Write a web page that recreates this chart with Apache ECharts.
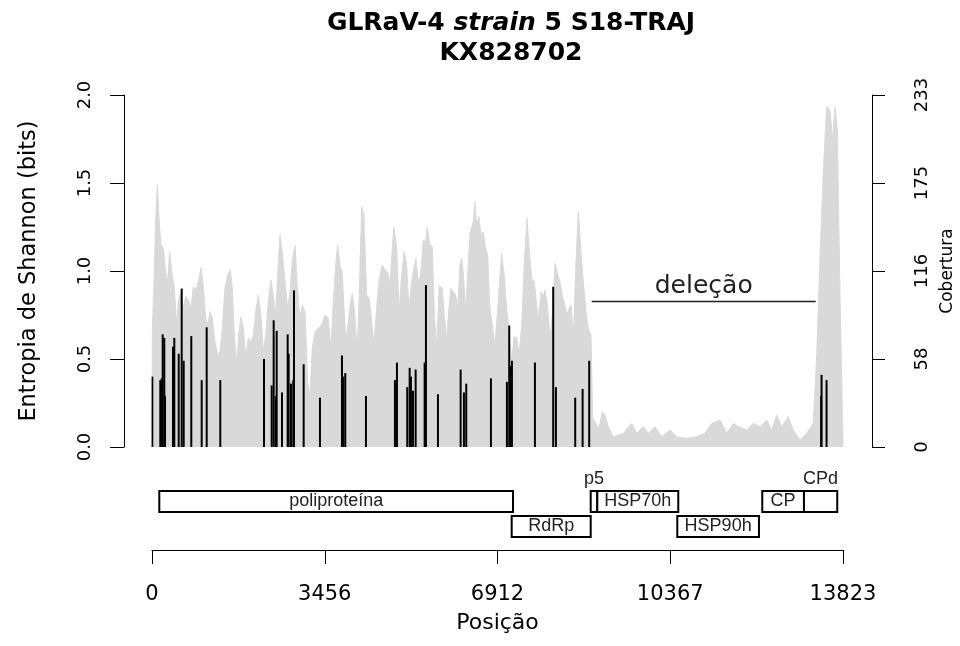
<!DOCTYPE html>
<html>
<head>
<meta charset="utf-8">
<title>GLRaV-4 strain 5 S18-TRAJ</title>
<script src="https://cdn.jsdelivr.net/npm/echarts@6.0.0/dist/echarts.min.js"></script>
<style>
  html, body { margin: 0; padding: 0; background: #fff; }
  #main { width: 960px; height: 646px; }
</style>
</head>
<body>
<div id="main"></div>
<script>
// genome and axis labels
var genomeLength = 13823;
var xTickLabels = ['0', '3456', '6912', '10367', '13823'];
var coverageMax = 233;
var coverageTickLabels = ['0', '58', '116', '175', '233'];

// coverage profile (grey area, right axis)
var coveragePos = [
  0, 6, 46, 76, 106, 140, 180, 226, 274, 314,
  354, 394, 446, 494, 526, 580, 626, 674, 726, 780,
  826, 874, 926, 980, 1026, 1074, 1114, 1160, 1206, 1260,
  1314, 1360, 1406, 1460, 1514, 1566, 1606, 1646, 1694, 1740,
  1780, 1826, 1874, 1926, 1980, 2026, 2074, 2126, 2180, 2226,
  2274, 2326, 2380, 2426, 2474, 2514, 2560, 2606, 2660, 2714,
  2760, 2806, 2860, 2914, 2960, 3006, 3060, 3114, 3160, 3206,
  3260, 3326, 3394, 3460, 3526, 3580, 3626, 3674, 3714, 3760,
  3806, 3840, 3880, 3926, 3974, 4006, 4046, 4106, 4146, 4194,
  4240, 4294, 4346, 4394, 4440, 4494, 4546, 4606, 4660, 4714,
  4760, 4806, 4840, 4894, 4946, 4994, 5046, 5094, 5140, 5194,
  5240, 5280, 5326, 5374, 5426, 5474, 5506, 5560, 5606, 5646,
  5694, 5746, 5806, 5846, 5894, 5940, 5980, 6026, 6074, 6114,
  6160, 6194, 6226, 6274, 6314, 6360, 6400, 6426, 6460, 6494,
  6540, 6580, 6626, 6674, 6714, 6760, 6814, 6860, 6906, 6926,
  6994, 7046, 7094, 7140, 7196, 7242, 7296, 7342, 7396, 7448,
  7502, 7548, 7596, 7648, 7696, 7728, 7782, 7828, 7862, 7908,
  7962, 8008, 8062, 8116, 8162, 8216, 8262, 8296, 8342, 8382,
  8428, 8476, 8528, 8582, 8628, 8676, 8728, 8782, 8816, 8862,
  8916, 8962, 9008, 9062, 9128, 9228, 9428, 9596, 9696, 9828,
  9928, 10062, 10196, 10362, 10496, 10696, 10896, 11062, 11196, 11362,
  11496, 11630, 11730, 11896, 12030, 12164, 12296, 12396, 12496, 12596,
  12728, 12828, 12962, 13096, 13228, 13296, 13362, 13428, 13496, 13562,
  13616, 13662, 13708, 13762, 13823
];
var coverageVal = [
  0, 76.3, 116.0, 153.6, 173.4, 151.6, 133.7, 131.7, 116.0, 109.4,
  129.3, 116.0, 105.3, 80.8, 96.2, 102.8, 92.0, 99.5, 97.3, 92.0,
  106.1, 103.9, 109.4, 118.7, 107.2, 85.4, 80.8, 89.6, 85.4, 69.7,
  60.9, 63.1, 78.8, 105.3, 113.9, 117.2, 105.3, 74.1, 55.6, 76.3,
  86.3, 78.8, 59.8, 72.0, 69.7, 74.1, 89.6, 100.6, 87.4, 63.1,
  74.1, 96.2, 110.6, 100.6, 87.4, 113.9, 140.3, 129.3, 109.4, 92.0,
  102.8, 122.7, 133.7, 102.8, 85.4, 94.0, 89.6, 43.2, 34.4, 65.3,
  76.3, 78.6, 80.8, 87.4, 85.2, 65.3, 96.2, 120.5, 133.7, 120.5,
  116.0, 91.8, 69.7, 82.9, 96.2, 101.7, 91.8, 64.2, 100.6, 159.1,
  153.6, 100.6, 98.4, 82.9, 67.5, 91.8, 111.7, 120.5, 117.2, 116.0,
  107.2, 131.5, 145.8, 131.5, 89.6, 113.9, 129.3, 120.5, 91.8, 109.4,
  118.3, 124.9, 109.4, 113.9, 137.0, 135.9, 145.8, 133.7, 132.6, 89.6,
  65.3, 107.2, 105.1, 87.4, 72.0, 91.8, 105.1, 102.8, 100.6, 91.8,
  120.5, 124.9, 116.0, 89.6, 113.9, 141.5, 140.3, 149.1, 162.4, 147.0,
  152.5, 140.3, 142.5, 131.5, 127.1, 91.8, 78.6, 67.5, 87.4, 96.2,
  128.2, 113.9, 91.8, 78.6, 56.5, 73.0, 72.0, 60.9, 80.8, 122.7,
  151.4, 129.3, 111.7, 109.4, 94.0, 84.1, 102.8, 99.5, 103.9, 95.1,
  72.0, 87.4, 121.6, 113.9, 109.4, 98.4, 94.0, 87.4, 91.8, 94.0,
  72.0, 118.3, 155.8, 129.3, 109.4, 91.8, 78.6, 74.1, 19.0, 16.7,
  12.4, 15.7, 23.4, 21.2, 13.4, 6.8, 9.1, 15.7, 9.1, 13.4,
  9.1, 13.4, 6.8, 11.3, 6.8, 5.8, 6.8, 9.1, 15.7, 17.9,
  9.1, 15.7, 13.4, 11.3, 15.7, 13.4, 17.9, 11.3, 21.2, 13.4,
  20.1, 11.3, 4.6, 9.1, 15.7, 59.8, 126.0, 181.2, 225.3, 223.1,
  203.2, 225.3, 209.9, 103.9, 2.6
];

// Shannon entropy per position (black spikes, left axis)
var entropyPos = [
  6, 166, 194, 214, 246, 260, 420, 446, 534, 594,
  634, 786, 994, 1094, 1366, 2240, 2394, 2434, 2474, 2494,
  2600, 2714, 2734, 2780, 2826, 2840, 3034, 3360, 3800, 3826,
  3866, 4280, 4860, 4900, 5106, 5154, 5180, 5220, 5274, 5454,
  5480, 5720, 6174, 6240, 6286, 6780, 7100, 7146, 7174, 7200,
  7660, 8026, 8080, 8466, 8614, 8746, 13386, 13394, 13494
];
var entropyVal = [
  0.40, 0.38, 0.39, 0.64, 0.62, 0.29, 0.57, 0.62, 0.53, 0.90,
  0.49, 0.63, 0.38, 0.68, 0.38, 0.50, 0.35, 0.72, 0.29, 0.66,
  0.31, 0.64, 0.53, 0.36, 0.38, 0.89, 0.47, 0.28, 0.52, 0.40,
  0.42, 0.29, 0.38, 0.48, 0.34, 0.45, 0.40, 0.32, 0.44, 0.48,
  0.92, 0.30, 0.44, 0.31, 0.36, 0.39, 0.37, 0.69, 0.46, 0.49,
  0.48, 0.91, 0.34, 0.28, 0.33, 0.49, 0.29, 0.41, 0.38
];

// genome map
var geneNames = ['poliproteína', 'RdRp', 'p5', 'HSP70h', 'HSP90h', 'CP', 'CPd'];
var geneStart = [146, 7195, 8776, 8908, 10508, 12208, 13042];
var geneEnd = [7222, 8776, 8908, 10528, 12142, 13042, 13708];
var geneLane = [1, 0, 1, 1, 0, 1, 1];
var laneNames = ['inferior', 'superior'];

// deleted region
var delStart = 8796;
var delEnd = 13277;
var delLevel = 0.83;
var delLabel = 'deleção';

var chartDom = document.getElementById('main');
var myChart = echarts.init(chartDom, null, { renderer: 'canvas' });

var measureCtx = document.createElement('canvas').getContext('2d');
measureCtx.font = '18px "Liberation Sans"';

function renderGene(params, api) {
  var lane = api.value(2);
  var p0 = api.coord([api.value(0), lane]);
  var p1 = api.coord([api.value(1), lane]);
  var h = api.size([0, 1])[1] * 0.84;
  var w = p1[0] - p0[0];
  var name = geneNames[params.dataIndex];
  // narrow boxes get their name written above them
  var above = measureCtx.measureText(name).width + 6 > w;
  return {
    type: 'group',
    children: [
      {
        type: 'rect',
        shape: { x: p0[0], y: p0[1] - h / 2, width: w, height: h },
        style: { fill: '#fff', stroke: '#000', lineWidth: 2 }
      },
      {
        type: 'text',
        style: {
          text: name,
          x: (p0[0] + p1[0]) / 2,
          y: above ? p0[1] - h / 2 - 3 : p0[1],
          align: 'center',
          verticalAlign: above ? 'bottom' : 'middle',
          fontSize: 18,
          fontFamily: 'Liberation Sans',
          fill: '#222'
        }
      }
    ]
  };
}

var font = 'DejaVu Sans';
var option = {
  animation: false,
  backgroundColor: '#fff',
  title: {
    text: '{b|GLRaV-4 }{i|strain}{b| 5 S18-TRAJ}\n{b|KX828702}',
    left: 511,
    top: 8,
    padding: 0,
    textAlign: 'center',
    textStyle: {
      rich: {
        b: { fontFamily: font, fontWeight: 'bold', fontSize: 25, lineHeight: 30, color: '#000' },
        i: { fontFamily: font, fontWeight: 'bold', fontStyle: 'italic', fontSize: 25, lineHeight: 30, color: '#000' }
      }
    }
  },
  grid: [
    { left: 152, right: 117, top: 95, height: 352, outerBoundsMode: 'none' },
    { left: 152, right: 117, top: 489, height: 50, outerBoundsMode: 'none' }
  ],
  xAxis: [
    { gridIndex: 0, type: 'value', min: 0, max: genomeLength, show: false },
    {
      gridIndex: 1,
      type: 'value',
      min: 0,
      max: genomeLength,
      interval: genomeLength / 4,
      position: 'bottom',
      offset: 11,
      axisLine: { show: true, onZero: false, lineStyle: { color: '#000', width: 1 } },
      axisTick: { show: true, length: 14, lineStyle: { color: '#000', width: 1 } },
      splitLine: { show: false },
      axisLabel: {
        margin: 34,
        fontFamily: font,
        fontSize: 21,
        color: '#000',
        formatter: function (v) { return xTickLabels[Math.round(v / (genomeLength / 4))]; }
      },
      name: 'Posição',
      nameLocation: 'middle',
      nameGap: 62,
      nameTextStyle: { fontFamily: font, fontSize: 22, color: '#000' }
    }
  ],
  yAxis: [
    {
      gridIndex: 0,
      type: 'value',
      min: 0,
      max: 2,
      interval: 0.5,
      position: 'left',
      offset: 28,
      axisLine: { show: true, onZero: false, lineStyle: { color: '#000', width: 1 } },
      axisTick: { show: true, length: 14, lineStyle: { color: '#000', width: 1 } },
      splitLine: { show: false },
      axisLabel: {
        rotate: 90,
        margin: 30,
        fontFamily: font,
        fontSize: 18,
        color: '#000',
        formatter: function (v) { return v.toFixed(1); }
      },
      name: 'Entropia de Shannon (bits)',
      nameLocation: 'middle',
      nameRotate: 90,
      nameGap: 83,
      nameTextStyle: { fontFamily: font, fontSize: 22.5, color: '#000' }
    },
    {
      gridIndex: 0,
      type: 'value',
      min: 0,
      max: coverageMax,
      interval: coverageMax / 4,
      position: 'right',
      offset: 29,
      axisLine: { show: true, onZero: false, lineStyle: { color: '#000', width: 1 } },
      axisTick: { show: true, length: 13, lineStyle: { color: '#000', width: 1 } },
      splitLine: { show: false },
      axisLabel: {
        rotate: 90,
        margin: 41,
        fontFamily: font,
        fontSize: 18,
        color: '#000',
        formatter: function (v) { return coverageTickLabels[Math.round(v / (coverageMax / 4))]; }
      },
      name: 'Cobertura',
      nameLocation: 'middle',
      nameRotate: 90,
      nameGap: 63,
      nameTextStyle: { fontFamily: font, fontSize: 17, color: '#000' }
    },
    {
      gridIndex: 1,
      type: 'category',
      data: laneNames,
      show: false
    }
  ],
  series: [
    {
      name: 'Cobertura',
      type: 'line',
      xAxisIndex: 0,
      yAxisIndex: 1,
      data: coveragePos.map(function (p, i) { return [p, coverageVal[i]]; }),
      showSymbol: false,
      symbol: 'none',
      lineStyle: { color: '#d9d9d9', width: 1 },
      areaStyle: { color: '#d9d9d9', opacity: 1 },
      z: 1
    },
    {
      name: 'Entropia',
      type: 'bar',
      xAxisIndex: 0,
      yAxisIndex: 0,
      data: entropyPos.map(function (p, i) { return [p, entropyVal[i]]; }),
      barWidth: 2,
      itemStyle: { color: '#000' },
      z: 3,
      markLine: {
        silent: true,
        symbol: 'none',
        lineStyle: { color: '#222', type: 'solid', width: 1.3 },
        label: {
          show: true,
          position: 'middle',
          distance: 2,
          formatter: delLabel,
          fontFamily: font,
          fontSize: 25,
          color: '#222'
        },
        data: [[{ coord: [delStart, delLevel] }, { coord: [delEnd, delLevel] }]]
      }
    },
    {
      name: 'Genes',
      type: 'custom',
      xAxisIndex: 1,
      yAxisIndex: 2,
      clip: false,
      renderItem: renderGene,
      encode: { x: [0, 1], y: 2 },
      data: geneNames.map(function (n, i) { return [geneStart[i], geneEnd[i], geneLane[i]]; }),
      z: 2
    }
  ]
};

option && myChart.setOption(option);
</script>
</body>
</html>
